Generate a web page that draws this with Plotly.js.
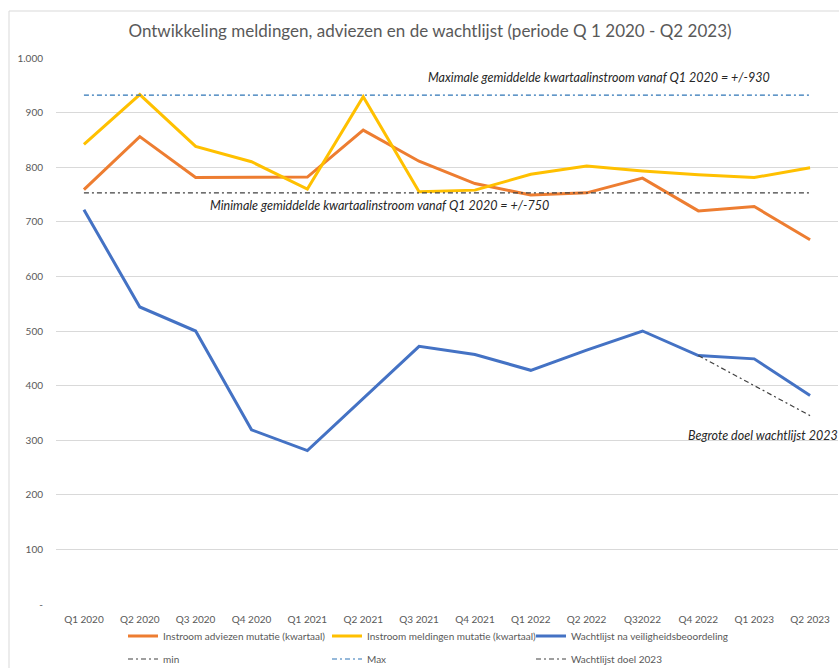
<!DOCTYPE html>
<html>
<head>
<meta charset="utf-8">
<script src="https://cdn.plot.ly/plotly-3.0.1.min.js"></script>
<style>
  html, body { margin: 0; padding: 0; background: #ffffff; }
  #chart { width: 839px; height: 668px; }
</style>
</head>
<body>
<div id="chart"></div>
<script>
const categories = ["Q1 2020", "Q2 2020", "Q3 2020", "Q4 2020", "Q1 2021", "Q2 2021", "Q3 2021",
                    "Q4 2021", "Q1 2022", "Q2 2022", "Q32022", "Q4 2022", "Q1 2023", "Q2 2023"];
const instroomAdviezen = [759, 856, 781, 781, 782, 868, 811, 770, 749, 753, 780, 720, 728, 667];
const instroomMeldingen = [842, 933, 838, 810, 760, 929, 755, 758, 787, 802, 793, 786, 781, 799];
const wachtlijst = [722, 544, 500, 319, 281, 376, 472, 457, 428, 465, 500, 455, 449, 382];
const minLine = [753, 753, 753, 753, 753, 753, 753, 753, 753, 753, 753, 753, 753, 753];
const maxLine = [932, 932, 932, 932, 932, 932, 932, 932, 932, 932, 932, 932, 932, 932];
const doelWachtlijst = [null, null, null, null, null, null, null, null, null, null, null, 455, 400, 345];
const yTickVals = [0, 100, 200, 300, 400, 500, 600, 700, 800, 900, 1000];
const yTickText = ["-", "100", "200", "300", "400", "500", "600", "700", "800", "900", "1.000"];

const FONT = "Lato, 'Open Sans', sans-serif";
const GREY = "#595959";

const traces = [
  { x: categories, y: instroomAdviezen, type: "scatter", mode: "lines",
    name: "Instroom adviezen mutatie (kwartaal)", line: { color: "#ED7D31", width: 3 }, legend: "legend" },
  { x: categories, y: instroomMeldingen, type: "scatter", mode: "lines",
    name: "Instroom meldingen mutatie (kwartaal)", line: { color: "#FFC000", width: 3 }, legend: "legend" },
  { x: categories, y: wachtlijst, type: "scatter", mode: "lines",
    name: "Wachtlijst na veiligheidsbeoordeling", line: { color: "#4472C4", width: 3 }, legend: "legend" },
  { x: categories, y: minLine, type: "scatter", mode: "lines",
    name: "min", line: { color: "#404040", width: 1.2, dash: "5px,3px,2px,3px" }, legend: "legend2" },
  { x: categories, y: maxLine, type: "scatter", mode: "lines",
    name: "Max", line: { color: "#2E75B6", width: 1.2, dash: "5px,3px,2px,3px" }, legend: "legend2" },
  { x: categories, y: doelWachtlijst, type: "scatter", mode: "lines",
    name: "Wachtlijst doel 2023", line: { color: "#404040", width: 1.2, dash: "5px,3px,2px,3px" }, legend: "legend2" }
];

const legendCommon = {
  orientation: "h", xanchor: "left", yanchor: "middle",
  font: { family: FONT, size: 10, color: GREY },
  bgcolor: "rgba(0,0,0,0)", borderwidth: 0,
  entrywidth: 159, entrywidthmode: "pixels", itemclick: false, itemdoubleclick: false
};

const layout = {
  width: 839, height: 668,
  margin: { l: 56, r: 1, t: 58, b: 64, pad: 0, autoexpand: false },
  paper_bgcolor: "#ffffff", plot_bgcolor: "#ffffff",
  font: { family: FONT, color: GREY },
  title: { text: "Ontwikkeling meldingen, adviezen en de wachtlijst (periode Q 1 2020 - Q2 2023)",
           font: { family: FONT, size: 17, color: GREY },
           x: (430 - 56) / 782, xref: "paper", xanchor: "center", y: 1 - 31 / 668, yref: "container", yanchor: "middle" },
  xaxis: {
    type: "category", range: [-0.5, 13.5],
    showgrid: false, zeroline: false, showline: false, ticks: "",
    tickfont: { family: FONT, size: 10, color: GREY }, ticklabelstandoff: 8
  },
  yaxis: {
    range: [0, 1000], tickmode: "array", tickvals: yTickVals, ticktext: yTickText,
    showgrid: true, gridcolor: "#d9d9d9", gridwidth: 1, zeroline: false, showline: false, ticks: "",
    tickfont: { family: FONT, size: 10, color: GREY }, ticklabelstandoff: 12
  },
  showlegend: true,
  legend: Object.assign({}, legendCommon, { x: (123 - 56) / 782, y: -32 / 546 }),
  legend2: Object.assign({}, legendCommon, { x: (123 - 56) / 782, y: -55 / 546 }),
  shapes: [
    { type: "rect", xref: "paper", yref: "paper", x0: -47 / 782, x1: 1.05, y0: -0.3, y1: (604 - 11) / 546,
      line: { color: "#d9d9d9", width: 1 }, fillcolor: "rgba(0,0,0,0)", layer: "below" }
  ],
  annotations: [
    { text: "Maximale gemiddelde kwartaalinstroom vanaf Q1 2020 = +/-930", xref: "paper", yref: "paper",
      x: (426 - 56) / 782, y: (604 - 78) / 546, xanchor: "left", yanchor: "middle", showarrow: false,
      font: { family: FONT, size: 12.5, color: "#262626", style: "italic" } },
    { text: "Minimale gemiddelde kwartaalinstroom vanaf Q1 2020 = +/-750", xref: "paper", yref: "paper",
      x: (208 - 56) / 782, y: (604 - 205) / 546, xanchor: "left", yanchor: "middle", showarrow: false,
      font: { family: FONT, size: 12.5, color: "#262626", style: "italic" } },
    { text: "Begrote doel wachtlijst 2023", xref: "paper", yref: "paper",
      x: (686 - 56) / 782, y: (604 - 435) / 546, xanchor: "left", yanchor: "middle", showarrow: false,
      font: { family: FONT, size: 12.5, color: "#262626", style: "italic" } }
  ]
};

Plotly.newPlot("chart", traces, layout, { displayModeBar: false, staticPlot: true });
</script>
</body>
</html>
